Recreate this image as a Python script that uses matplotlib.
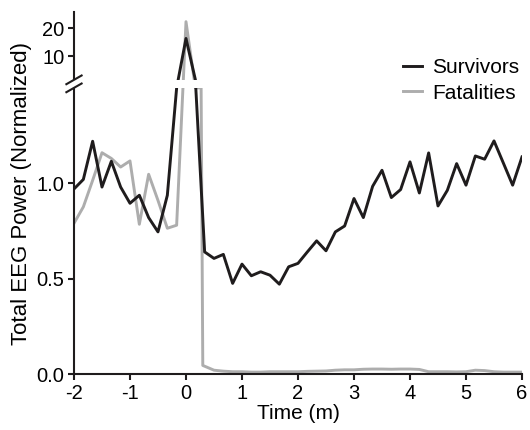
import numpy as np
import matplotlib
matplotlib.use('Agg')
import matplotlib.pyplot as plt
from matplotlib.patches import Rectangle
from matplotlib.ticker import NullLocator

plt.rcParams['font.family'] = ['Liberation Sans', 'DejaVu Sans']
plt.rcParams['axes.unicode_minus'] = False

# sample times in minutes (10 s bins)
time = np.round(np.linspace(-2, 6, 49), 3)

survivors = [0.97, 1.02, 1.22, 0.98, 1.115, 0.98, 0.895, 0.937, 0.82, 0.745,
             0.937, 1.5, 16.3, 1.6, 0.64, 0.606, 0.627, 0.475, 0.576, 0.515,
             0.536, 0.518, 0.471, 0.562, 0.580, 0.640, 0.698, 0.646, 0.745, 0.776,
             0.920, 0.82, 0.984, 1.068, 0.925, 0.967, 1.112, 0.949, 1.159, 0.881,
             0.963, 1.103, 0.99, 1.143, 1.126, 1.222, 1.106, 0.99, 1.138]

# fatalities bins around the drop are not on the same grid
fat_time = np.concatenate([time[:14], [0.27, 0.30], time[15:]])
fatalities = [0.79, 0.876, 1.015, 1.16, 1.13, 1.085, 1.117, 0.785, 1.047, 0.91,
              0.764, 0.78, 22.3, 1.5, 1.5, 0.045,
              0.02, 0.015,
              0.012, 0.012, 0.01, 0.01, 0.012, 0.012, 0.012, 0.012,
              0.014, 0.015, 0.016,
              0.02, 0.022, 0.022,
              0.025, 0.026, 0.026, 0.025, 0.026, 0.026, 0.024,
              0.012, 0.012, 0.012, 0.011,
              0.012, 0.02, 0.018, 0.012,
              0.01, 0.01, 0.01]

yticks = [0, 0.5, 1.0, 10, 20]
yticklabels = ['0.0', '0.5', '1.0', '10', '20']
xticks = [-2, -1, 0, 1, 2, 3, 4, 5, 6]

# broken y axis: linear up to BRK, then a gap, then a compressed upper part
BRK = 1.5
GAP = 0.042
R = 0.01466
YTOP = 25.76


def fwd(v):
    v = np.asarray(v, dtype=float)
    return np.where(v <= BRK, v, BRK + GAP + (v - BRK) * R)


def inv(s):
    s = np.asarray(s, dtype=float)
    return np.where(s <= BRK, s,
                    np.where(s < BRK + GAP, BRK, BRK + (s - BRK - GAP) / R))


fig = plt.figure(figsize=(5.3, 4.3), dpi=100)
ax = fig.add_axes([0.1396, 0.1302, 0.8453, 0.8419])

ax.plot(time, survivors, color='#1f1c1d', lw=2.1, label='Survivors', zorder=2.2)
ax.plot(fat_time, fatalities, color='#adadad', lw=2.1, label='Fatalities', zorder=2.1)

ax.set_yscale('function', functions=(fwd, inv))
ax.set_ylim(0, YTOP)
ax.set_xlim(-2, 6)
ax.set_yticks(yticks)
ax.set_yticklabels(yticklabels)
ax.set_xticks(xticks)
ax.yaxis.set_minor_locator(NullLocator())
ax.xaxis.set_minor_locator(NullLocator())

for side in ['top', 'right']:
    ax.spines[side].set_visible(False)
for side in ['left', 'bottom']:
    ax.spines[side].set_linewidth(1.5)
    ax.spines[side].set_color('#1f1c1d')
ax.tick_params(direction='out', length=4, width=1.5, labelsize=14.5,
               color='#1f1c1d', pad=3)

ax.set_xlabel('Time (m)', fontsize=15, labelpad=1)
ax.set_ylabel('Total EEG Power (Normalized)', fontsize=16, labelpad=3)

# white band hiding the gap, plus the break marks on the spine
s_top = float(fwd(YTOP))
y0 = BRK / s_top
h = GAP / s_top
ax.add_patch(Rectangle((-0.05, y0), 1.07, h, transform=ax.transAxes,
                       facecolor='white', edgecolor='none', zorder=3,
                       clip_on=False))
dx, dy = 0.017, 0.012
for yc in [y0, y0 + h]:
    ax.plot([-dx, dx], [yc - dy, yc + dy], transform=ax.transAxes,
            color='#1f1c1d', lw=1.5, clip_on=False, zorder=4)

leg = ax.legend(loc='upper left', bbox_to_anchor=(0.735, 0.872), frameon=False,
                handlelength=0.9, handletextpad=0.5, labelspacing=0.3,
                borderpad=0, borderaxespad=0, fontsize=15)
leg.set_zorder(6)

fig.savefig('out.png', dpi=100)
